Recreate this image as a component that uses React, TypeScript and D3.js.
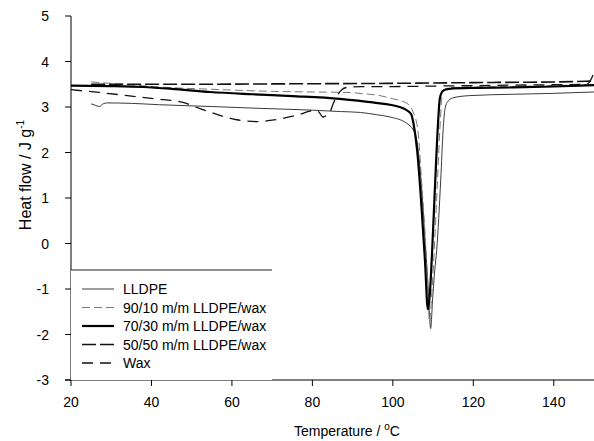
import React from "react";
import * as d3 from "d3";

// DSC heating curves, heat flow vs temperature
const W = 594;
const H = 441;

const xTicks = [20, 40, 60, 80, 100, 120, 140];
const yTicks = [-3, -2, -1, 0, 1, 2, 3, 4, 5];

const lldpeT = [25, 26, 27, 28, 29, 35, 42, 55, 67, 80, 87, 92, 96, 99.3, 103.5, 105.5, 106.3, 107, 108, 108.8, 109.4, 109.9, 110.4, 110.9, 111.9, 112.5, 112.9, 113.5, 114.9, 119, 130, 140, 150];
const lldpeV = [3.07, 3.04, 3.01, 3.07, 3.09, 3.08, 3.05, 3.01, 2.97, 2.93, 2.9, 2.88, 2.83, 2.78, 2.64, 2.42, 2.05, 1.4, 0.1, -1.0, -1.87, -1.2, -0.6, -0.15, 1.4, 2.5, 2.92, 3.1, 3.2, 3.25, 3.28, 3.3, 3.33];

const b9010T = [25, 30, 36, 42, 55, 72, 80, 88.6, 93, 96.8, 100, 103.5, 105, 106.2, 107.2, 108.2, 108.7, 109.1, 109.6, 110.2, 111, 111.8, 112.3, 113, 115, 130, 140, 150];
const b9010V = [3.55, 3.52, 3.48, 3.44, 3.39, 3.34, 3.33, 3.32, 3.29, 3.25, 3.18, 3.08, 2.9, 2.5, 1.3, -0.1, -1.0, -1.72, -1.2, -0.3, 1.2, 2.7, 3.3, 3.4, 3.43, 3.45, 3.47, 3.5];

const b7030T = [20, 30, 38, 45, 54.5, 65, 75, 86.8, 95, 101.7, 104.5, 105.3, 106.2, 107.2, 108, 108.7, 109.2, 109.8, 110.5, 111.2, 111.7, 112.5, 114, 120, 130, 140, 150];
const b7030V = [3.47, 3.46, 3.44, 3.4, 3.33, 3.28, 3.24, 3.18, 3.1, 3.0, 2.85, 2.55, 1.9, 0.7, -0.4, -1.45, -1.1, -0.1, 1.3, 2.6, 3.2, 3.36, 3.4, 3.42, 3.43, 3.45, 3.48];

const b5050T = [25, 50, 75, 100, 125, 140, 150];
const b5050V = [3.5, 3.5, 3.51, 3.52, 3.54, 3.55, 3.57];

const waxT = [20, 27, 34, 41, 47.8, 51, 54.5, 58, 61.2, 66.2, 70, 73.7, 77, 80.1, 81.5, 82.6, 83.6, 84.4, 85.3, 86.3, 87.3, 88.6, 92, 100, 110, 120, 130, 140, 148.2, 150];
const waxV = [3.38, 3.32, 3.25, 3.18, 3.1, 3.0, 2.89, 2.79, 2.72, 2.68, 2.71, 2.77, 2.84, 2.92, 2.9, 2.78, 2.82, 2.9, 3.1, 3.27, 3.38, 3.43, 3.45, 3.45, 3.46, 3.47, 3.48, 3.49, 3.5, 3.75];

const series = [
  { name: "LLDPE", t: lldpeT, v: lldpeV, color: "#3a3a3a", width: 1, dash: "" },
  { name: "90/10 m/m LLDPE/wax", t: b9010T, v: b9010V, color: "#777", width: 1, dash: "8,4" },
  { name: "70/30 m/m LLDPE/wax", t: b7030T, v: b7030V, color: "#000", width: 2.2, dash: "" },
  { name: "50/50 m/m LLDPE/wax", t: b5050T, v: b5050V, color: "#111", width: 1.6, dash: "14,4" },
  { name: "Wax", t: waxT, v: waxV, color: "#111", width: 1.3, dash: "11,7" },
];

export default function App() {
  const x = d3.scaleLinear().domain([20, 150]).range([71, 594]);
  const y = d3.scaleLinear().domain([-3, 5]).range([380, 16]);
  const line = d3
    .line<[number, number]>()
    .x((d) => x(d[0]))
    .y((d) => y(d[1]))
    .curve(d3.curveMonotoneX);

  const font = "'Liberation Sans', Arial, sans-serif";
  const legendTop = 270;
  const legendRight = 272;
  const rowY = (i: number) => 289 + i * 18.5;

  return (
    <svg width={W} height={H} style={{ position: "absolute", left: 0, top: 0, background: "#fff" }} fontFamily={font}>
      {series.map((s) => (
        <path
          key={s.name}
          d={line(s.t.map((t, i) => [t, s.v[i]] as [number, number])) || ""}
          fill="none"
          stroke={s.color}
          strokeWidth={s.width}
          strokeDasharray={s.dash || undefined}
        />
      ))}

      {/* axes */}
      <line x1={x(20)} x2={x(20)} y1={y(5)} y2={y(-3)} stroke="#000" strokeWidth={1} />
      <line x1={x(20) - 6} x2={594} y1={y(-3)} y2={y(-3)} stroke="#000" strokeWidth={1} />
      {yTicks.map((t) => (
        <g key={t}>
          <line x1={x(20) - 6} x2={x(20)} y1={y(t)} y2={y(t)} stroke="#000" />
          <text x={49} y={y(t) + 5} textAnchor="end" fontSize={14}>{t}</text>
        </g>
      ))}
      {xTicks.map((t) => (
        <g key={t}>
          <line x1={x(t)} x2={x(t)} y1={y(-3)} y2={y(-3) + 6} stroke="#000" />
          <text x={x(t)} y={407} textAnchor="middle" fontSize={14}>{t}</text>
        </g>
      ))}

      <text x={347} y={436} textAnchor="middle" fontSize={14}>
        Temperature / <tspan fontSize={10} dy={-6}>o</tspan><tspan dy={6}>C</tspan>
      </text>
      <text transform="translate(31,175) rotate(-90)" textAnchor="middle" fontSize={16}>
        Heat flow / J g<tspan fontSize={10} dy={-7}>-1</tspan>
      </text>

      {/* legend */}
      <rect x={x(20)} y={legendTop} width={legendRight - x(20)} height={y(-3) - legendTop} fill="#fff" />
      <line x1={x(20)} x2={legendRight} y1={legendTop} y2={legendTop} stroke="#222" />
      {series.map((s, i) => (
        <g key={s.name}>
          <line x1={82} x2={114} y1={rowY(i)} y2={rowY(i)} stroke={s.color} strokeWidth={s.width} strokeDasharray={s.dash || undefined} />
          <text x={123} y={rowY(i) + 5} fontSize={14}>{s.name}</text>
        </g>
      ))}
    </svg>
  );
}
